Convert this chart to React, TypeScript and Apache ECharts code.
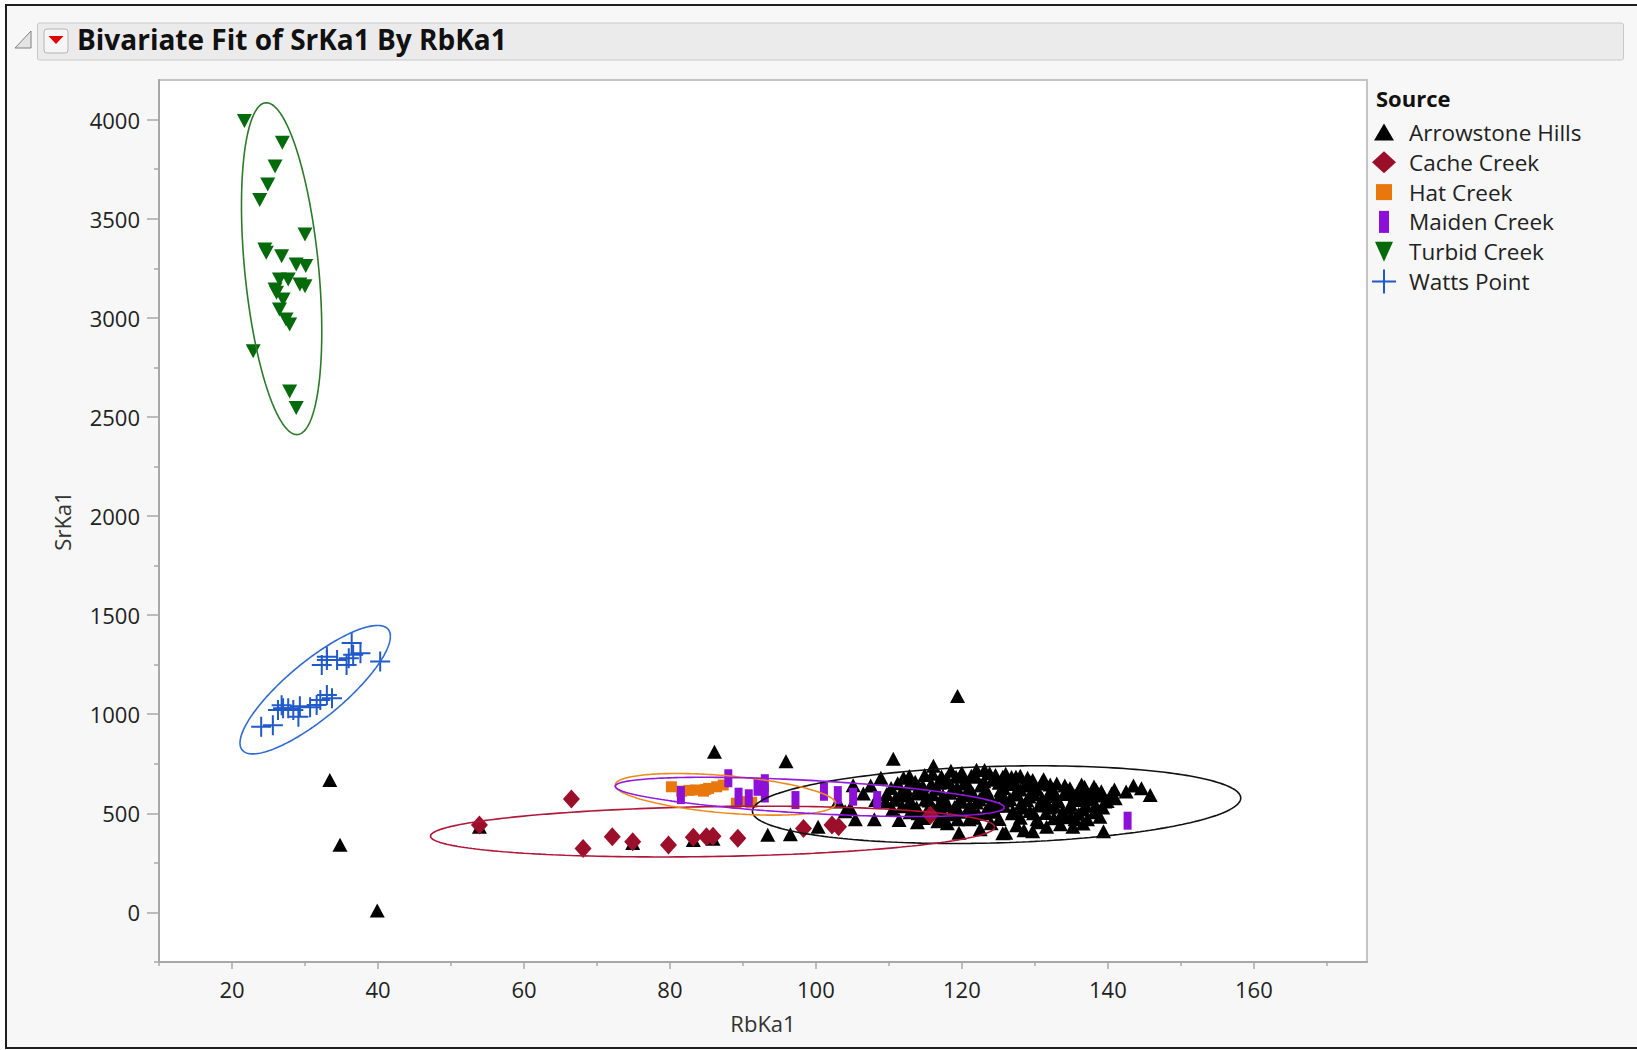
import React, { useEffect, useRef } from "react";
import * as echarts from "echarts";

// ---------- data ----------
const SOURCES = ["Arrowstone Hills", "Cache Creek", "Hat Creek", "Maiden Creek", "Turbid Creek", "Watts Point"];
const COLORS = ["#000000", "#9c0f2a", "#e8780c", "#8c10d8", "#046a0a", "#2059c8"];
const ELLIPSE_COLORS = ["#111111", "#b0183a", "#ee8a1c", "#9418e0", "#2a7a2a", "#2f6ad2"];

const X_LABELS = [20, 40, 60, 80, 100, 120, 140, 160];
const X_MINOR = [10, 30, 50, 70, 90, 110, 130, 150, 170];
const Y_LABELS = [0, 500, 1000, 1500, 2000, 2500, 3000, 3500, 4000];
const Y_MINOR = [-250, 250, 750, 1250, 1750, 2250, 2750, 3250, 3750];

const arrowstone: number[][] = [
  [33.4, 668], [34.8, 342], [39.9, 10], [53.9, 432], [74.9, 350], [83.2, 365], [85.9, 372],
  [86.1, 811], [93.4, 392], [95.9, 763], [96.5, 395], [100.3, 432], [104.7, 526], [105.1, 642],
  [105.4, 470], [108.2, 567], [108.9, 680], [110.6, 775], [111.4, 466], [111.8, 609], [113.9, 455],
  [114.6, 640], [116.1, 740], [116.7, 460], [117.8, 668], [119.2, 685], [119.4, 1092], [119.6, 402],
  [121.9, 685], [123.1, 719], [123.8, 702], [125.6, 685], [125.6, 399], [126.0, 402], [127.4, 685],
  [129.3, 660], [129.7, 668], [129.7, 410], [131.6, 432], [132.5, 618], [134.8, 626], [135.2, 432],
  [136.6, 449], [136.8, 634], [138.4, 618], [138.9, 483], [139.4, 410], [141.0, 576], [144.6, 626],
  [145.8, 592],
  [112.5, 590], [113.2, 545], [114.0, 500], [114.8, 610], [115.5, 565], [116.2, 520], [116.9, 655],
  [117.4, 590], [118.1, 540], [118.6, 495], [119.3, 630], [119.8, 575], [120.4, 660], [120.9, 520],
  [121.5, 600], [122.0, 555], [122.6, 640], [123.1, 500], [123.5, 585], [124.2, 670], [124.8, 540],
  [125.3, 615], [125.9, 565], [126.4, 650], [127.0, 510], [127.6, 595], [128.1, 550], [128.7, 640],
  [129.2, 585], [129.8, 500], [130.3, 620], [130.9, 560], [131.4, 650], [132.0, 530], [132.6, 600],
  [133.1, 570], [133.7, 480], [134.2, 610], [134.9, 545], [135.5, 590], [136.1, 620], [136.6, 520],
  [137.2, 580], [137.8, 600], [138.3, 540], [139.0, 590], [139.6, 560], [118.0, 450], [121.0, 470],
  [124.0, 450], [127.5, 440], [130.5, 455], [133.5, 445], [135.5, 470], [122.5, 420], [128.5, 415],
  [116.0, 700], [118.5, 715], [120.0, 705], [122.0, 720], [126.0, 700], [128.0, 690], [131.0, 660],
  [133.0, 650], [106.5, 600], [107.5, 640], [109.5, 560], [110.5, 520], [104.0, 510], [103.0, 560],
  [108.0, 470], [112.0, 680], [113.0, 650], [140.5, 600], [142.5, 610], [143.5, 640],
  [112.8, 688], [114.9, 694], [117.2, 686], [119.9, 697], [121.3, 690], [124.6, 693], [126.8, 684],
  [129.0, 680], [131.2, 672],
  [111.2, 652], [113.6, 660], [115.8, 648], [118.2, 657], [120.6, 650], [123.0, 662], [125.1, 655],
  [127.3, 648], [129.6, 652], [132.1, 645], [134.1, 640], [136.4, 645], [138.1, 635],
  [110.3, 628], [112.4, 620], [114.1, 630], [116.5, 624], [118.8, 618], [121.0, 632], [123.3, 622],
  [125.7, 628], [128.0, 620], [130.1, 630], [132.3, 624], [134.5, 615], [136.9, 622], [139.1, 612],
  [140.9, 620],
  [109.7, 598], [111.5, 592], [113.9, 600], [116.0, 596], [118.4, 604], [120.7, 592], [123.0, 598],
  [125.2, 590], [127.3, 602], [129.9, 596], [131.8, 588], [134.0, 598], [136.3, 592], [138.6, 604],
  [140.4, 585],
  [110.8, 568], [112.9, 562], [115.0, 570], [117.6, 564], [119.8, 558], [122.4, 570], [124.1, 562],
  [126.6, 572], [128.9, 566], [131.0, 575], [133.2, 560], [135.6, 567], [137.9, 570], [139.9, 562],
  [111.8, 536], [113.8, 530], [116.8, 540], [119.0, 532], [121.1, 542], [123.7, 528], [125.8, 538],
  [128.2, 530], [130.6, 540], [132.7, 534], [134.8, 528], [137.0, 538], [139.3, 530],
  [112.9, 505], [115.2, 510], [117.4, 502], [119.6, 508], [122.2, 498], [124.5, 508], [126.9, 500],
  [129.3, 512], [131.5, 502], [133.8, 508], [136.0, 498], [138.1, 505],
  [114.7, 476], [117.0, 480], [119.4, 470], [121.7, 478], [125.1, 472], [128.0, 478], [130.3, 470],
  [132.6, 475], [134.9, 482], [137.2, 470],
];

const cacheCreek: number[][] = [
  [53.9, 441], [66.5, 572], [68.1, 323], [72.1, 382], [74.9, 357], [79.8, 340], [83.2, 379],
  [85.0, 382], [85.9, 385], [89.3, 374], [98.3, 424], [102.2, 441], [103.1, 432], [115.7, 491],
];

const hatCreek: number[][] = [
  [80.2, 634], [81.6, 612], [82.6, 616], [83.5, 618], [84.6, 612], [84.9, 621], [85.3, 626],
  [86.4, 634], [87.3, 643], [89.1, 551], [90.3, 559], [91.2, 556],
];

const maidenCreek: number[][] = [
  [81.5, 592], [88.0, 677], [89.4, 584], [90.8, 576], [92.0, 634], [93.0, 652], [93.0, 600],
  [97.2, 567], [101.1, 609], [103.0, 592], [105.1, 584], [108.4, 567], [142.7, 463],
];

const turbidCreek: number[][] = [
  [21.7, 3993], [26.9, 3884], [25.9, 3763], [24.9, 3673], [23.8, 3594], [30.0, 3421], [24.7, 3328],
  [24.5, 3345], [26.8, 3311], [28.8, 3269], [30.1, 3261], [26.5, 3193], [27.7, 3193], [29.3, 3168],
  [30.0, 3160], [25.9, 3143], [26.1, 3126], [27.0, 3092], [26.5, 3042], [27.4, 2992], [27.9, 2966],
  [22.9, 2831], [27.9, 2629], [28.8, 2545],
];

const wattsPoint: number[][] = [
  [24.0, 937], [25.6, 945], [26.3, 1022], [26.8, 1045], [27.0, 1030], [27.7, 1030], [28.4, 1022],
  [29.1, 988], [29.3, 1040], [30.7, 1035], [31.6, 1047], [32.1, 1072], [33.0, 1097], [33.7, 1081],
  [33.0, 1274], [33.0, 1290], [34.4, 1274], [35.7, 1249], [36.0, 1283], [36.4, 1360], [36.6, 1300],
  [37.6, 1308], [40.3, 1266], [32.3, 1249],
];

// density ellipse parameters: [centerX, centerY, radiusX, radiusY, correlation]
const ellipseArrowstone = [124.75, 544, 33.45, 196, 0.17];
const ellipseCache = [85.85, 408, 38.65, 128, 0.18];
const ellipseHat = [87.6, 596, 15.1, 105, -0.44];
const ellipseMaiden = [99.15, 583, 26.65, 99, -0.54];
const ellipseTurbid = [26.8, 3248, 5.5, 837, -0.38];
const ellipseWatts = [31.4, 1124, 10.3, 324, 0.83];

const GROUPS = [arrowstone, cacheCreek, hatCreek, maidenCreek, turbidCreek, wattsPoint];
const ELLIPSES = [ellipseArrowstone, ellipseCache, ellipseHat, ellipseMaiden, ellipseTurbid, ellipseWatts];

const PLUS = "path://M9,0h2v9h9v2h-9v9h-2v-9h-9v-2h9z";
const SYMBOLS: any[] = [
  { symbol: "triangle", symbolSize: [15, 14], symbolRotate: 0 },
  { symbol: "diamond", symbolSize: [17, 19], symbolRotate: 0 },
  { symbol: "rect", symbolSize: [11, 11], symbolRotate: 0 },
  { symbol: "rect", symbolSize: [8, 18], symbolRotate: 0 },
  { symbol: "triangle", symbolSize: [15, 14], symbolRotate: 180 },
  { symbol: PLUS, symbolSize: [20, 20], symbolRotate: 0 },
];

function ellipsePoints(p: number[]) {
  const [cx, cy, rx, ry, rho] = p;
  const s = Math.sqrt(1 - rho * rho);
  const pts: number[][] = [];
  for (let i = 0; i <= 240; i++) {
    const t = (i / 240) * 2 * Math.PI;
    pts.push([cx + rx * Math.cos(t), cy + ry * (rho * Math.cos(t) + s * Math.sin(t))]);
  }
  return pts;
}

const FONT = "'Open Sans', 'Noto Sans', sans-serif";

function legendIcon(i: number, cx: number, cy: number): any[] {
  const c = COLORS[i];
  switch (i) {
    case 0:
      return [{ type: "polygon", shape: { points: [[cx, cy - 9], [cx + 10, cy + 8], [cx - 10, cy + 8]] }, style: { fill: c } }];
    case 1:
      return [{ type: "polygon", shape: { points: [[cx, cy - 11], [cx + 12, cy], [cx, cy + 11], [cx - 12, cy]] }, style: { fill: c } }];
    case 2:
      return [{ type: "rect", shape: { x: cx - 8, y: cy - 8, width: 16, height: 16 }, style: { fill: c } }];
    case 3:
      return [{ type: "rect", shape: { x: cx - 5, y: cy - 11, width: 10, height: 22 }, style: { fill: c } }];
    case 4:
      return [{ type: "polygon", shape: { points: [[cx - 9, cy - 10], [cx + 9, cy - 10], [cx, cy + 10]] }, style: { fill: c } }];
    default:
      return [
        { type: "rect", shape: { x: cx - 12, y: cy - 1, width: 24, height: 2 }, style: { fill: c } },
        { type: "rect", shape: { x: cx - 1, y: cy - 12, width: 2, height: 24 }, style: { fill: c } },
      ];
  }
}

export default function App() {
  const ref = useRef<HTMLDivElement>(null);

  useEffect(() => {
    if (!ref.current) return;
    const chart = echarts.init(ref.current, undefined, { renderer: "svg" });

    const scatterSeries = GROUPS.map((g, i) => ({
      name: SOURCES[i],
      type: "scatter",
      data: g,
      symbol: SYMBOLS[i].symbol,
      symbolSize: SYMBOLS[i].symbolSize,
      symbolRotate: SYMBOLS[i].symbolRotate,
      itemStyle: { color: COLORS[i], opacity: 1 },
      emphasis: { disabled: true },
      z: 2,
    }));
    const ellipseSeries = ELLIPSES.map((e, i) => ({
      name: SOURCES[i] + " ellipse",
      type: "line",
      data: ellipsePoints(e),
      showSymbol: false,
      symbol: "none",
      smooth: false,
      lineStyle: { color: ELLIPSE_COLORS[i], width: 1.6 },
      emphasis: { disabled: true },
      z: 3,
    }));

    const legendGraphics: any[] = [
      {
        type: "text",
        style: { text: "Source", x: 1376, y: 98, font: `bold 22px ${FONT}`, fill: "#111", verticalAlign: "middle" },
      },
    ];
    SOURCES.forEach((s, i) => {
      const cy = 132.5 + i * 29.8;
      legendGraphics.push(...legendIcon(i, 1384, cy));
      legendGraphics.push({
        type: "text",
        style: { text: s, x: 1409, y: cy, font: `22.5px ${FONT}`, fill: "#222", verticalAlign: "middle" },
      });
    });

    const option: any = {
      animation: false,
      backgroundColor: "transparent",
      textStyle: { fontFamily: FONT },
      title: {
        text: "Bivariate Fit of SrKa1 By RbKa1",
        left: 77,
        top: 25,
        padding: 0,
        textStyle: { fontFamily: FONT, fontSize: 28, fontWeight: "bold", color: "#111" },
      },
      grid: {
        left: 159,
        top: 80,
        right: 270,
        bottom: 88,
        show: true,
        backgroundColor: "#ffffff",
        borderColor: "#c4c4c4",
        borderWidth: 2,
      },
      xAxis: [
        {
          type: "value",
          min: 10,
          max: 175.5,
          interval: 10,
          name: "RbKa1",
          nameLocation: "middle",
          nameGap: 50,
          nameTextStyle: { fontSize: 22, color: "#333", fontFamily: FONT },
          axisLine: { show: true, onZero: false, lineStyle: { color: "#a8a8a8", width: 2 } },
          axisTick: { show: true, length: 7, customValues: X_LABELS, lineStyle: { color: "#a8a8a8", width: 1.5 } },
          axisLabel: {
            customValues: X_LABELS,
            margin: 16,
            fontSize: 22,
            color: "#222",
            fontFamily: FONT,
            formatter: (v: number) => (X_LABELS.includes(v) ? String(v) : ""),
          },
          splitLine: { show: false },
        },
        {
          type: "value",
          gridIndex: 0,
          position: "bottom",
          min: 10,
          max: 175.5,
          interval: 10,
          axisLine: { show: false, onZero: false },
          axisTick: { show: true, length: 4, customValues: X_MINOR, lineStyle: { color: "#a8a8a8", width: 1.5 } },
          axisLabel: { show: false },
          splitLine: { show: false },
        },
      ],
      yAxis: [
        {
          type: "value",
          min: -250,
          max: 4200,
          interval: 250,
          name: "SrKa1",
          nameLocation: "middle",
          nameGap: 86,
          nameTextStyle: { fontSize: 22, color: "#333", fontFamily: FONT },
          axisLine: { show: true, onZero: false, lineStyle: { color: "#a8a8a8", width: 2 } },
          axisTick: { show: true, length: 12, customValues: Y_LABELS, lineStyle: { color: "#a8a8a8", width: 1.5 } },
          axisLabel: {
            customValues: Y_LABELS,
            margin: 19,
            fontSize: 22,
            color: "#222",
            fontFamily: FONT,
            formatter: (v: number) => (Y_LABELS.includes(v) ? String(v) : ""),
          },
          splitLine: { show: false },
        },
        {
          type: "value",
          gridIndex: 0,
          position: "left",
          min: -250,
          max: 4200,
          interval: 250,
          axisLine: { show: false, onZero: false },
          axisTick: { show: true, length: 5, customValues: Y_MINOR, lineStyle: { color: "#a8a8a8", width: 1.5 } },
          axisLabel: { show: false },
          splitLine: { show: false },
        },
      ],
      graphic: [
        {
          type: "rect",
          z: 0,
          shape: { x: 37.5, y: 23, width: 1586, height: 37, r: 2 },
          style: { fill: "#ebebeb", stroke: "#c9c9c9", lineWidth: 1 },
        },
        {
          type: "polygon",
          shape: { points: [[31, 31], [31, 48], [15, 48]] },
          style: { fill: "#e4e4e4", stroke: "#808080", lineWidth: 1 },
        },
        {
          type: "rect",
          shape: { x: 44, y: 29, width: 24, height: 24, r: 3 },
          style: { fill: "#f5f5f5", stroke: "#b5b5b5", lineWidth: 1 },
        },
        {
          type: "polygon",
          shape: { points: [[48.5, 36], [63.5, 36], [56, 44]] },
          style: { fill: "#e00000" },
        },
        ...legendGraphics,
      ],
      series: [...scatterSeries, ...ellipseSeries],
    };

    chart.setOption(option);
    return () => chart.dispose();
  }, []);

  return (
    <div style={{ position: "absolute", left: 0, top: 0, width: 1637, height: 1050, overflow: "hidden", background: "#ffffff" }}>
      <div
        style={{
          position: "absolute",
          left: 5,
          top: 4,
          width: 1700,
          height: 1041,
          border: "2px solid #1e1e1e",
          background: "#f7f7f7",
        }}
      />
      <div ref={ref} style={{ position: "absolute", left: 0, top: 0, width: 1637, height: 1050 }} />
    </div>
  );
}
